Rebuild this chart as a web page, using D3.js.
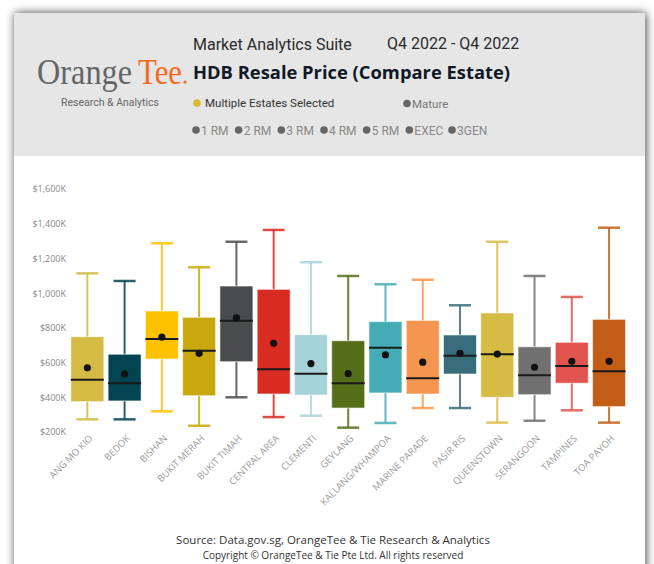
<!DOCTYPE html>
<html>
<head>
<meta charset="utf-8">
<script src="https://cdn.jsdelivr.net/npm/d3@7"></script>
<style>
	body { margin: 0; background: #fff; }
	svg { display: block; }
</style>
</head>
<body>
<div id="chartDiv"></div>
<script>
// estates and box plot stats (in $K)
var estates = ["ANG MO KIO", "BEDOK", "BISHAN", "BUKIT MERAH", "BUKIT TIMAH", "CENTRAL AREA",
	"CLEMENTI", "GEYLANG", "KALLANG/WHAMPOA", "MARINE PARADE", "PASIR RIS", "QUEENSTOWN",
	"SERANGOON", "TAMPINES", "TOA PAYOH"];
var mins    = [273, 273, 319, 236, 400, 286, 294, 225, 252, 338, 338, 254, 265, 325, 254];
var q1s     = [375, 379, 620, 409, 605, 419, 413, 338, 425, 419, 534, 400, 415, 481, 346];
var medians = [501, 481, 736, 668, 841, 561, 536, 481, 686, 509, 640, 648, 527, 580, 550];
var q3s     = [749, 648, 897, 861, 1041, 1022, 761, 726, 836, 843, 759, 886, 691, 717, 849];
var maxs    = [1114, 1070, 1287, 1149, 1296, 1364, 1178, 1099, 1051, 1077, 930, 1296, 1099, 978, 1377];
var means   = [570, 534, 747, 653, 857, 711, 594, 536, 645, 602, 653, 649, 573, 607, 607];
var colors  = ["#d5ba44", "#034452", "#fdc100", "#c9a80e", "#4a4b4d", "#d82b22", "#a7d2d9",
	"#556e1a", "#45abb4", "#f59650", "#386e7b", "#d6bc45", "#707070", "#e1544f", "#c45e17"];
var yTicks  = [200, 400, 600, 800, 1000, 1200, 1400, 1600];
var types   = ["1 RM", "2 RM", "3 RM", "4 RM", "5 RM", "EXEC", "3GEN"];

var W = 654, H = 564;

var svg = d3.select("#chartDiv").append("svg")
	.attr("width", W)
	.attr("height", H);

// card shadow
var defs = svg.append("defs");
var f = defs.append("filter").attr("id", "shadow")
	.attr("x", "-10%").attr("y", "-10%").attr("width", "120%").attr("height", "120%");
f.append("feGaussianBlur").attr("in", "SourceAlpha").attr("stdDeviation", 5).attr("result", "b");
f.append("feOffset").attr("in", "b").attr("dx", 1).attr("dy", 0).attr("result", "o");
f.append("feComponentTransfer").attr("in", "o").attr("result", "s")
	.append("feFuncA").attr("type", "linear").attr("slope", 0.75);
var m = f.append("feMerge");
m.append("feMergeNode").attr("in", "s");
m.append("feMergeNode").attr("in", "SourceGraphic");

svg.append("rect")
	.attr("x", 14).attr("y", 13).attr("width", 631).attr("height", 580)
	.attr("fill", "#fff")
	.attr("filter", "url(#shadow)");

// header band
svg.append("rect")
	.attr("x", 14).attr("y", 13).attr("width", 631).attr("height", 143)
	.attr("fill", "#e6e6e6");

// logo, two words side by side
svg.append("text")
	.attr("x", 37).attr("y", 84)
	.attr("font-family", "Liberation Serif, DejaVu Serif, serif")
	.attr("font-size", 36)
	.attr("fill", "#646567")
	.attr("textLength", 95)
	.attr("lengthAdjust", "spacingAndGlyphs")
	.text("Orange");
svg.append("text")
	.attr("x", 138).attr("y", 84)
	.attr("font-family", "Liberation Serif, DejaVu Serif, serif")
	.attr("font-size", 36)
	.attr("fill", "#f26a21")
	.attr("textLength", 44)
	.attr("lengthAdjust", "spacingAndGlyphs")
	.text("Tee");
svg.append("circle").attr("cx", 185).attr("cy", 82).attr("r", 1.6).attr("fill", "#f26a21");

svg.append("text")
	.attr("x", 110).attr("y", 106)
	.attr("text-anchor", "middle")
	.attr("font-family", "Roboto, sans-serif")
	.attr("font-size", 10.5)
	.attr("fill", "#666")
	.text("Research & Analytics");

// titles
svg.append("text")
	.attr("x", 193).attr("y", 50)
	.attr("font-family", "Roboto, sans-serif")
	.attr("font-size", 16)
	.attr("fill", "#2b2b2b")
	.text("Market Analytics Suite");
svg.append("text")
	.attr("x", 387).attr("y", 49)
	.attr("font-family", "Roboto, sans-serif")
	.attr("font-size", 16)
	.attr("fill", "#2b2b2b")
	.text("Q4 2022 - Q4 2022");
svg.append("text")
	.attr("x", 193).attr("y", 79)
	.attr("font-family", "Open Sans, sans-serif")
	.attr("font-weight", "bold")
	.attr("font-size", 17)
	.attr("textLength", 317)
	.attr("lengthAdjust", "spacingAndGlyphs")
	.attr("fill", "#111827")
	.text("HDB Resale Price (Compare Estate)");

// filter legend
svg.append("circle").attr("cx", 197).attr("cy", 103).attr("r", 3.8).attr("fill", "#d7b936");
svg.append("text")
	.attr("x", 205).attr("y", 107)
	.attr("font-family", "Roboto, sans-serif")
	.attr("font-size", 11.5)
	.attr("fill", "#333")
	.text("Multiple Estates Selected");
svg.append("circle").attr("cx", 407).attr("cy", 103.5).attr("r", 3.8).attr("fill", "#666");
svg.append("text")
	.attr("x", 412).attr("y", 107.5)
	.attr("font-family", "Roboto, sans-serif")
	.attr("font-size", 11.5)
	.attr("fill", "#777")
	.text("Mature");

var typeX = d3.scalePoint().domain(types).range([196, 452]);
var tg = svg.selectAll(".type").data(types).enter().append("g")
	.attr("class", "type")
	.attr("transform", function(d) { return "translate(" + typeX(d) + ",130)"; });
tg.append("circle").attr("r", 3.8).attr("fill", "#666");
tg.append("text")
	.attr("x", 5).attr("y", 4.5)
	.attr("font-family", "Roboto, sans-serif")
	.attr("font-size", 12)
	.attr("fill", "#888")
	.text(function(d) { return d; });

// scales
var x = d3.scalePoint().domain(estates).range([68.7, 627.7]).padding(0.5);
var y = d3.scaleLinear().domain([200, 1600]).range([432, 189]);
var boxW = 33, capW = 22;

// y axis labels
svg.append("g")
	.attr("transform", "translate(66,0)")
	.call(d3.axisLeft(y).tickValues(yTicks).tickSize(0).tickPadding(0)
		.tickFormat(function(d) { return "$" + d3.format(",")(d) + "K"; }))
	.call(function(g) { g.select(".domain").remove(); })
	.selectAll("text")
	.attr("font-family", "Open Sans, sans-serif")
	.attr("font-size", 9)
	.attr("fill", "#888");

// boxes
var idx = d3.range(estates.length);
var box = svg.selectAll(".box").data(idx).enter().append("g")
	.attr("class", "box")
	.attr("transform", function(i) { return "translate(" + x(estates[i]) + ",0)"; });

box.append("line")
	.attr("y1", function(i) { return y(mins[i]); })
	.attr("y2", function(i) { return y(maxs[i]); })
	.attr("stroke", function(i) { return colors[i]; })
	.attr("stroke-opacity", 0.85)
	.attr("stroke-width", 2);

box.selectAll(".cap").data(function(i) { return [[i, mins[i]], [i, maxs[i]]]; })
	.enter().append("line")
	.attr("class", "cap")
	.attr("x1", -capW / 2).attr("x2", capW / 2)
	.attr("y1", function(d) { return y(d[1]); })
	.attr("y2", function(d) { return y(d[1]); })
	.attr("stroke", function(d) { return colors[d[0]]; })
	.attr("stroke-opacity", 0.85)
	.attr("stroke-width", 2.5);

box.append("rect")
	.attr("x", -boxW / 2)
	.attr("width", boxW)
	.attr("y", function(i) { return y(q3s[i]); })
	.attr("height", function(i) { return y(q1s[i]) - y(q3s[i]); })
	.attr("fill", function(i) { return colors[i]; })
	.attr("stroke", "#fff")
	.attr("stroke-opacity", 0.6)
	.attr("stroke-width", 1);

box.append("line")
	.attr("x1", -boxW / 2).attr("x2", boxW / 2)
	.attr("y1", function(i) { return y(medians[i]); })
	.attr("y2", function(i) { return y(medians[i]); })
	.attr("stroke", "#1a1a1a")
	.attr("stroke-width", 2);

box.append("circle")
	.attr("cy", function(i) { return y(means[i]); })
	.attr("r", 3.6)
	.attr("fill", "#111");

// x labels
svg.selectAll(".xl").data(estates).enter().append("text")
	.attr("class", "xl")
	.attr("transform", function(d) { return "translate(" + (x(d) + 6) + ",439) rotate(-45)"; })
	.attr("text-anchor", "end")
	.attr("font-family", "Open Sans, sans-serif")
	.attr("font-size", 9.5)
	.attr("fill", "#999")
	.text(function(d) { return d; });

// footer
svg.append("text")
	.attr("x", 333).attr("y", 544)
	.attr("text-anchor", "middle")
	.attr("font-family", "Open Sans, sans-serif")
	.attr("font-size", 11.5)
	.attr("fill", "#333")
	.text("Source: Data.gov.sg, OrangeTee & Tie Research & Analytics");
svg.append("text")
	.attr("x", 333).attr("y", 559)
	.attr("text-anchor", "middle")
	.attr("font-family", "Open Sans, sans-serif")
	.attr("font-size", 10)
	.attr("fill", "#333")
	.text("Copyright © OrangeTee & Tie Pte Ltd. All rights reserved");
</script>
</body>
</html>
